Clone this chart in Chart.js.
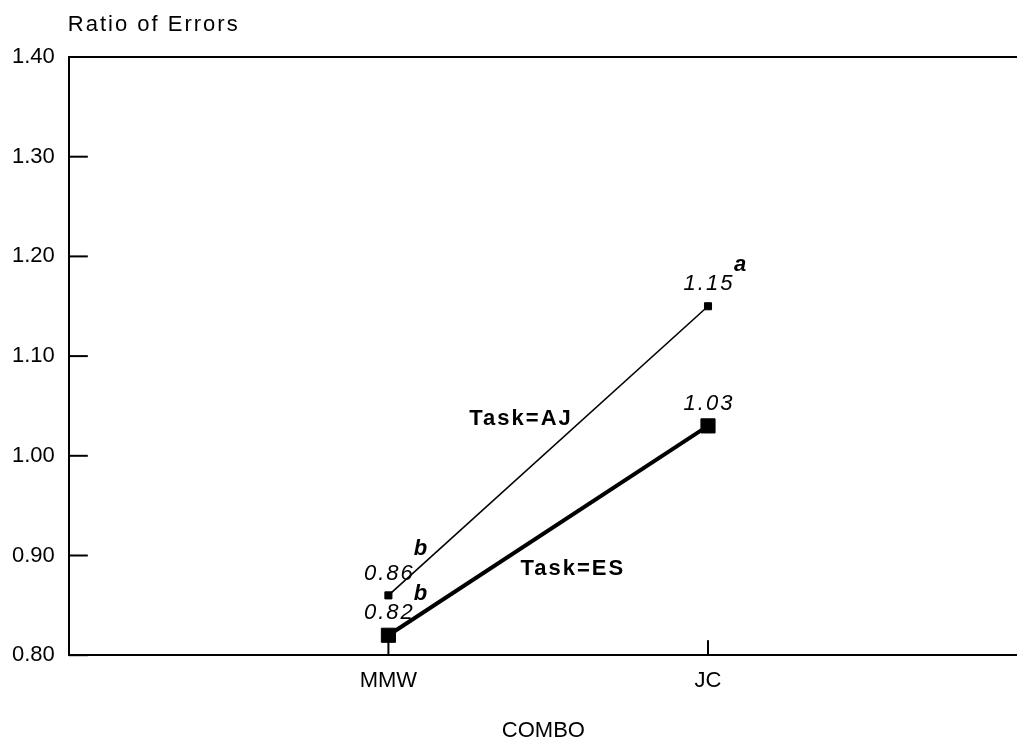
<!DOCTYPE html>
<html><head><meta charset="utf-8">
<script src="https://cdn.jsdelivr.net/npm/chart.js@4.4.0/dist/chart.umd.min.js"></script>
<style>html,body{margin:0;padding:0;background:#fff;overflow:hidden;width:1017px;height:742px}#wrap{width:1029px;height:742px;position:relative}</style>
</head><body><div id="wrap"><canvas id="c"></canvas></div>
<script>
const categories = ['MMW', 'JC'];
const taskAJ = [0.86, 1.15];
const taskES = [0.82, 1.03];
const yTicks = [0.80, 0.90, 1.00, 1.10, 1.20, 1.30, 1.40];
const ajSuperscripts = ['b', 'a'];
const esSuperscripts = ['b', ''];
const seriesNames = ['Task=AJ', 'Task=ES'];
const seriesNameX = [1.415, 1.577];
const seriesNameY = [1.037, 0.887];
const yTitle = 'Ratio of Errors';
const xTitle = 'COMBO';

const FONT = '"Liberation Sans", Arial, sans-serif';
const supOffsetY = [[-46, -41], [-41, -41]];

const toPoints = vals => vals.map((v, i) => ({x: i + 1, y: v}));

const deco = {
  id: 'deco',
  beforeDatasetsDraw(chart) {
    const {ctx, chartArea: a, scales: {x, y}} = chart;
    ctx.save();
    ctx.strokeStyle = '#000';
    ctx.lineWidth = 2;
    ctx.beginPath(); ctx.moveTo(a.left, a.top); ctx.lineTo(chart.width, a.top); ctx.stroke();
    y.ticks.forEach(t => {
      const py = y.getPixelForValue(t.value);
      ctx.beginPath(); ctx.moveTo(a.left, py); ctx.lineTo(a.left + 19, py); ctx.stroke();
    });
    x.ticks.forEach(t => {
      const px = x.getPixelForValue(t.value);
      ctx.beginPath(); ctx.moveTo(px, a.bottom); ctx.lineTo(px, a.bottom - 15); ctx.stroke();
    });
    ctx.restore();
  },
  afterDatasetsDraw(chart) {
    const {ctx, chartArea: a, scales: {x, y}} = chart;
    ctx.save();
    ctx.fillStyle = '#000';
    try { ctx.letterSpacing = '2px'; } catch (e) {}
    ctx.font = '22px ' + FONT;
    ctx.textAlign = 'left';
    ctx.textBaseline = 'alphabetic';
    ctx.fillText(yTitle, a.left - 1, 31);
    const series = [[taskAJ, ajSuperscripts], [taskES, esSuperscripts]];
    series.forEach(([vals, sups], s) => {
      vals.forEach((v, i) => {
        const px = x.getPixelForValue(i + 1), py = y.getPixelForValue(v);
        ctx.font = 'italic 22px ' + FONT;
        ctx.textAlign = 'center';
        ctx.textBaseline = 'middle';
        ctx.fillText(v.toFixed(2), px + 1, py - 22);
        if (sups[i]) {
          ctx.font = 'italic bold 22px ' + FONT;
          ctx.fillText(sups[i], px + 33, py + supOffsetY[s][i]);
        }
      });
    });
    ctx.font = 'bold 22px ' + FONT;
    ctx.textAlign = 'center';
    ctx.textBaseline = 'middle';
    seriesNames.forEach((n, i) => {
      ctx.fillText(n, x.getPixelForValue(seriesNameX[i]), y.getPixelForValue(seriesNameY[i]));
    });
    ctx.restore();
  }
};

new Chart(document.getElementById('c'), {
  type: 'line',
  data: {
    datasets: [
      {label: seriesNames[0], data: toPoints(taskAJ), borderColor: '#000', backgroundColor: '#000', borderWidth: 1.6,
       pointStyle: 'rect', pointRadius: 5, pointBorderWidth: 1, pointBackgroundColor: '#000', pointBorderColor: '#000', tension: 0},
      {label: seriesNames[1], data: toPoints(taskES), borderColor: '#000', backgroundColor: '#000', borderWidth: 4,
       pointStyle: 'rect', pointRadius: 10, pointBorderWidth: 1, pointBackgroundColor: '#000', pointBorderColor: '#000', tension: 0}
    ]
  },
  options: {
    responsive: true,
    maintainAspectRatio: false,
    animation: false,
    events: [],
    layout: {padding: {top: 57, left: -2, right: 0, bottom: -2}},
    plugins: {legend: {display: false}, tooltip: {enabled: false}},
    scales: {
      x: {
        type: 'linear', min: 0, max: 2.97,
        afterBuildTicks: axis => { axis.ticks = categories.map((c, i) => ({value: i + 1})); },
        ticks: {callback: v => categories[v - 1] ?? '', color: '#000', font: {family: FONT, size: 22}, padding: 13, maxRotation: 0, autoSkip: false},
        grid: {display: false, drawTicks: false},
        border: {display: true, color: '#000', width: 2},
        title: {display: true, text: xTitle, color: '#000', font: {family: FONT, size: 22}, padding: {top: 10, bottom: 0}}
      },
      y: {
        type: 'linear', min: 0.8, max: 1.4,
        afterBuildTicks: axis => { axis.ticks = yTicks.map(v => ({value: v})); },
        ticks: {callback: v => Number(v).toFixed(2), color: '#000', font: {family: FONT, size: 22}, padding: 14},
        grid: {display: false, drawTicks: false},
        border: {display: true, color: '#000', width: 2}
      }
    }
  },
  plugins: [deco]
});
</script></body></html>
